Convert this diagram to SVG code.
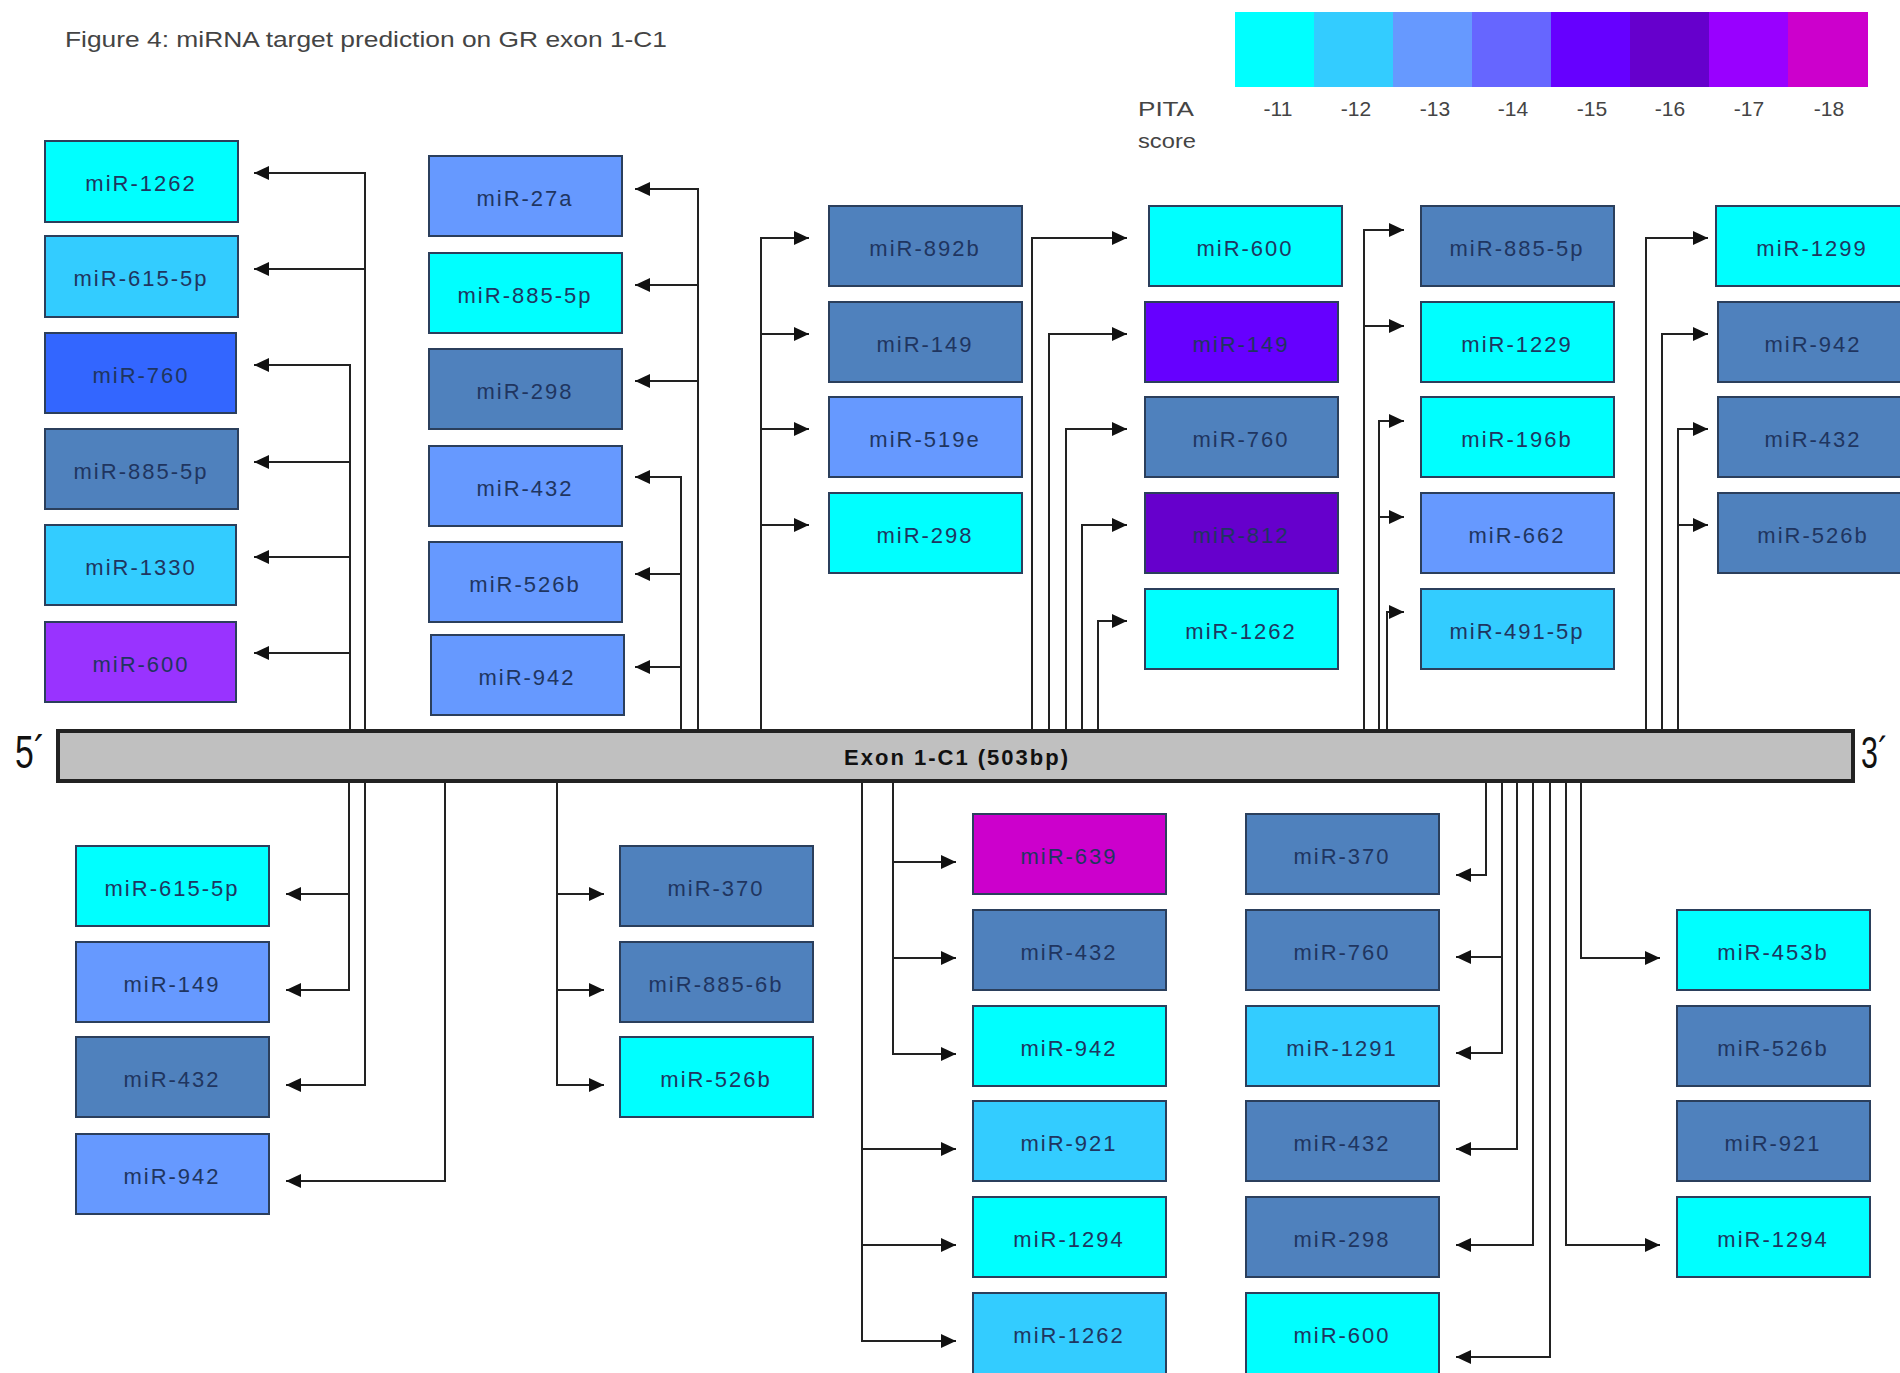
<svg xmlns="http://www.w3.org/2000/svg" width="1900" height="1373" viewBox="0 0 1900 1373">
<defs>
<style>
.b rect{stroke:#2b3f5c;stroke-width:2}
.b text{font-family:"Liberation Sans",Arial,sans-serif;font-size:22px;letter-spacing:2px;fill:#1f3560;text-anchor:middle}
.c1{fill:#00FFFF}.c2{fill:#33CCFF}.c3{fill:#6699FF}.c4{fill:#6666FF}.c5{fill:#6600FF}.c6{fill:#6600CC}.c7{fill:#9900FF}.c8{fill:#CC00CC}
.sb{fill:#4F81BD}.c760{fill:#3366FF}.c600{fill:#9933FF}
#connectors path{fill:none;stroke:#222;stroke-width:2;marker-end:url(#ah)}
.lg{font-family:"Liberation Sans",Arial,sans-serif;font-size:21px;fill:#444}
</style>
<marker id="ah" markerUnits="userSpaceOnUse" markerWidth="16" markerHeight="14" viewBox="0 0 16 14" refX="15" refY="7" orient="auto">
<path d="M0,0 L15,7 L0,14 z" fill="#111"/>
</marker>
</defs>
<rect width="1900" height="1373" fill="#ffffff"/>

<text x="65" y="47" font-family="Liberation Sans, Arial, sans-serif" font-size="22" fill="#444" textLength="602" lengthAdjust="spacingAndGlyphs">Figure 4: miRNA target prediction on GR exon 1-C1</text>

<g id="legend">
<rect x="1235" y="12" width="80" height="75" fill="#00FFFF"/>
<rect x="1314" y="12" width="80" height="75" fill="#33CCFF"/>
<rect x="1393" y="12" width="80" height="75" fill="#6699FF"/>
<rect x="1472" y="12" width="80" height="75" fill="#6666FF"/>
<rect x="1551" y="12" width="80" height="75" fill="#6600FF"/>
<rect x="1630" y="12" width="80" height="75" fill="#6600CC"/>
<rect x="1709" y="12" width="80" height="75" fill="#9900FF"/>
<rect x="1788" y="12" width="80" height="75" fill="#CC00CC"/>
<text class="lg" x="1138" y="116" textLength="56" lengthAdjust="spacingAndGlyphs">PITA</text>
<text class="lg" x="1138" y="148" textLength="58" lengthAdjust="spacingAndGlyphs">score</text>
<g text-anchor="middle">
<text class="lg" x="1278" y="116">-11</text>
<text class="lg" x="1356" y="116">-12</text>
<text class="lg" x="1435" y="116">-13</text>
<text class="lg" x="1513" y="116">-14</text>
<text class="lg" x="1592" y="116">-15</text>
<text class="lg" x="1670" y="116">-16</text>
<text class="lg" x="1749" y="116">-17</text>
<text class="lg" x="1829" y="116">-18</text>
</g>
</g>

<g id="connectors">
<path d="M365,731 V173 H254"/><path d="M365,269 H254"/>
<path d="M350,731 V365 H254"/><path d="M350,462 H254"/><path d="M350,557 H254"/><path d="M350,653 H254"/>
<path d="M698,731 V189 H635"/><path d="M698,285 H635"/><path d="M698,381 H635"/>
<path d="M681,731 V477 H635"/><path d="M681,574 H635"/><path d="M681,667 H635"/>
<path d="M761,731 V238 H809"/><path d="M761,334 H809"/><path d="M761,429 H809"/><path d="M761,525 H809"/>
<path d="M1032,731 V238 H1127"/>
<path d="M1049,731 V334 H1127"/>
<path d="M1066,731 V429 H1127"/>
<path d="M1082,731 V525 H1127"/>
<path d="M1098,731 V621 H1127"/>
<path d="M1364,731 V230 H1404"/><path d="M1364,326 H1404"/>
<path d="M1379,731 V421 H1404"/><path d="M1379,517 H1404"/>
<path d="M1387,731 V612 H1404"/>
<path d="M1646,731 V238 H1708"/>
<path d="M1662,731 V334 H1708"/>
<path d="M1678,731 V429 H1708"/><path d="M1678,525 H1708"/>
<path d="M349,782 V990 H286"/><path d="M349,894 H286"/>
<path d="M365,782 V1085 H286"/>
<path d="M445,782 V1181 H286"/>
<path d="M557,782 V1085 H604"/><path d="M557,894 H604"/><path d="M557,990 H604"/>
<path d="M893,782 V1054 H956"/><path d="M893,862 H956"/><path d="M893,958 H956"/>
<path d="M862,782 V1341 H956"/><path d="M862,1149 H956"/><path d="M862,1245 H956"/>
<path d="M1486,782 V875 H1456"/>
<path d="M1502,782 V1053 H1456"/><path d="M1502,957 H1456"/>
<path d="M1517,782 V1149 H1456"/>
<path d="M1533,782 V1245 H1456"/>
<path d="M1550,782 V1357 H1456"/>
<path d="M1566,782 V1245 H1660"/>
<path d="M1581,782 V958 H1660"/>
</g>

<g id="exon">
<rect x="58" y="731" width="1795" height="50" fill="#C0C0C0" stroke="#222" stroke-width="4"/>
<text x="957" y="765" font-family="Liberation Sans, Arial, sans-serif" font-size="22" font-weight="bold" fill="#111" text-anchor="middle" letter-spacing="2">Exon 1-C1 (503bp)</text>
</g>
<text id="five" x="15" y="768" font-family="Liberation Sans, Arial, sans-serif" font-size="46" fill="#111" textLength="30" lengthAdjust="spacingAndGlyphs">5´</text>
<text id="three" x="1861" y="768" font-family="Liberation Sans, Arial, sans-serif" font-size="44" fill="#111" textLength="27" lengthAdjust="spacingAndGlyphs">3´</text>

<g id="t1-1" class="b"><rect class="c1" x="45" y="141" width="193" height="81"/><text x="141" y="191">miR-1262</text></g>
<g id="t1-2" class="b"><rect class="c2" x="45" y="236" width="193" height="81"/><text x="141" y="286">miR-615-5p</text></g>
<g id="t1-3" class="b"><rect class="c760" x="45" y="333" width="191" height="80"/><text x="141" y="383">miR-760</text></g>
<g id="t1-4" class="b"><rect class="sb" x="45" y="429" width="193" height="80"/><text x="141" y="479">miR-885-5p</text></g>
<g id="t1-5" class="b"><rect class="c2" x="45" y="525" width="191" height="80"/><text x="141" y="575">miR-1330</text></g>
<g id="t1-6" class="b"><rect class="c600" x="45" y="622" width="191" height="80"/><text x="141" y="672">miR-600</text></g>
<g id="t2-1" class="b"><rect class="c3" x="429" y="156" width="193" height="80"/><text x="525" y="206">miR-27a</text></g>
<g id="t2-2" class="b"><rect class="c1" x="429" y="253" width="193" height="80"/><text x="525" y="303">miR-885-5p</text></g>
<g id="t2-3" class="b"><rect class="sb" x="429" y="349" width="193" height="80"/><text x="525" y="399">miR-298</text></g>
<g id="t2-4" class="b"><rect class="c3" x="429" y="446" width="193" height="80"/><text x="525" y="496">miR-432</text></g>
<g id="t2-5" class="b"><rect class="c3" x="429" y="542" width="193" height="80"/><text x="525" y="592">miR-526b</text></g>
<g id="t2-6" class="b"><rect class="c3" x="431" y="635" width="193" height="80"/><text x="527" y="685">miR-942</text></g>
<g id="t3-1" class="b"><rect class="sb" x="829" y="206" width="193" height="80"/><text x="925" y="256">miR-892b</text></g>
<g id="t3-2" class="b"><rect class="sb" x="829" y="302" width="193" height="80"/><text x="925" y="352">miR-149</text></g>
<g id="t3-3" class="b"><rect class="c3" x="829" y="397" width="193" height="80"/><text x="925" y="447">miR-519e</text></g>
<g id="t3-4" class="b"><rect class="c1" x="829" y="493" width="193" height="80"/><text x="925" y="543">miR-298</text></g>
<g id="t4-1" class="b"><rect class="c1" x="1149" y="206" width="193" height="80"/><text x="1245" y="256">miR-600</text></g>
<g id="t4-2" class="b"><rect class="c5" x="1145" y="302" width="193" height="80"/><text x="1241" y="352">miR-149</text></g>
<g id="t4-3" class="b"><rect class="sb" x="1145" y="397" width="193" height="80"/><text x="1241" y="447">miR-760</text></g>
<g id="t4-4" class="b"><rect class="c6" x="1145" y="493" width="193" height="80"/><text x="1241" y="543">miR-812</text></g>
<g id="t4-5" class="b"><rect class="c1" x="1145" y="589" width="193" height="80"/><text x="1241" y="639">miR-1262</text></g>
<g id="t5-1" class="b"><rect class="sb" x="1421" y="206" width="193" height="80"/><text x="1517" y="256">miR-885-5p</text></g>
<g id="t5-2" class="b"><rect class="c1" x="1421" y="302" width="193" height="80"/><text x="1517" y="352">miR-1229</text></g>
<g id="t5-3" class="b"><rect class="c1" x="1421" y="397" width="193" height="80"/><text x="1517" y="447">miR-196b</text></g>
<g id="t5-4" class="b"><rect class="c3" x="1421" y="493" width="193" height="80"/><text x="1517" y="543">miR-662</text></g>
<g id="t5-5" class="b"><rect class="c2" x="1421" y="589" width="193" height="80"/><text x="1517" y="639">miR-491-5p</text></g>
<g id="t6-1" class="b"><rect class="c1" x="1716" y="206" width="193" height="80"/><text x="1812" y="256">miR-1299</text></g>
<g id="t6-2" class="b"><rect class="sb" x="1718" y="302" width="193" height="80"/><text x="1813" y="352">miR-942</text></g>
<g id="t6-3" class="b"><rect class="sb" x="1718" y="397" width="193" height="80"/><text x="1813" y="447">miR-432</text></g>
<g id="t6-4" class="b"><rect class="sb" x="1718" y="493" width="193" height="80"/><text x="1813" y="543">miR-526b</text></g>
<g id="b1-1" class="b"><rect class="c1" x="76" y="846" width="193" height="80"/><text x="172" y="896">miR-615-5p</text></g>
<g id="b1-2" class="b"><rect class="c3" x="76" y="942" width="193" height="80"/><text x="172" y="992">miR-149</text></g>
<g id="b1-3" class="b"><rect class="sb" x="76" y="1037" width="193" height="80"/><text x="172" y="1087">miR-432</text></g>
<g id="b1-4" class="b"><rect class="c3" x="76" y="1134" width="193" height="80"/><text x="172" y="1184">miR-942</text></g>
<g id="b2-1" class="b"><rect class="sb" x="620" y="846" width="193" height="80"/><text x="716" y="896">miR-370</text></g>
<g id="b2-2" class="b"><rect class="sb" x="620" y="942" width="193" height="80"/><text x="716" y="992">miR-885-6b</text></g>
<g id="b2-3" class="b"><rect class="c1" x="620" y="1037" width="193" height="80"/><text x="716" y="1087">miR-526b</text></g>
<g id="b3-1" class="b"><rect class="c8" x="973" y="814" width="193" height="80"/><text x="1069" y="864">miR-639</text></g>
<g id="b3-2" class="b"><rect class="sb" x="973" y="910" width="193" height="80"/><text x="1069" y="960">miR-432</text></g>
<g id="b3-3" class="b"><rect class="c1" x="973" y="1006" width="193" height="80"/><text x="1069" y="1056">miR-942</text></g>
<g id="b3-4" class="b"><rect class="c2" x="973" y="1101" width="193" height="80"/><text x="1069" y="1151">miR-921</text></g>
<g id="b3-5" class="b"><rect class="c1" x="973" y="1197" width="193" height="80"/><text x="1069" y="1247">miR-1294</text></g>
<g id="b3-6" class="b"><rect class="c2" x="973" y="1293" width="193" height="82"/><text x="1069" y="1343">miR-1262</text></g>
<g id="b4-1" class="b"><rect class="sb" x="1246" y="814" width="193" height="80"/><text x="1342" y="864">miR-370</text></g>
<g id="b4-2" class="b"><rect class="sb" x="1246" y="910" width="193" height="80"/><text x="1342" y="960">miR-760</text></g>
<g id="b4-3" class="b"><rect class="c2" x="1246" y="1006" width="193" height="80"/><text x="1342" y="1056">miR-1291</text></g>
<g id="b4-4" class="b"><rect class="sb" x="1246" y="1101" width="193" height="80"/><text x="1342" y="1151">miR-432</text></g>
<g id="b4-5" class="b"><rect class="sb" x="1246" y="1197" width="193" height="80"/><text x="1342" y="1247">miR-298</text></g>
<g id="b4-6" class="b"><rect class="c1" x="1246" y="1293" width="193" height="82"/><text x="1342" y="1343">miR-600</text></g>
<g id="b5-1" class="b"><rect class="c1" x="1677" y="910" width="193" height="80"/><text x="1773" y="960">miR-453b</text></g>
<g id="b5-2" class="b"><rect class="sb" x="1677" y="1006" width="193" height="80"/><text x="1773" y="1056">miR-526b</text></g>
<g id="b5-3" class="b"><rect class="sb" x="1677" y="1101" width="193" height="80"/><text x="1773" y="1151">miR-921</text></g>
<g id="b5-4" class="b"><rect class="c1" x="1677" y="1197" width="193" height="80"/><text x="1773" y="1247">miR-1294</text></g>
</svg>
